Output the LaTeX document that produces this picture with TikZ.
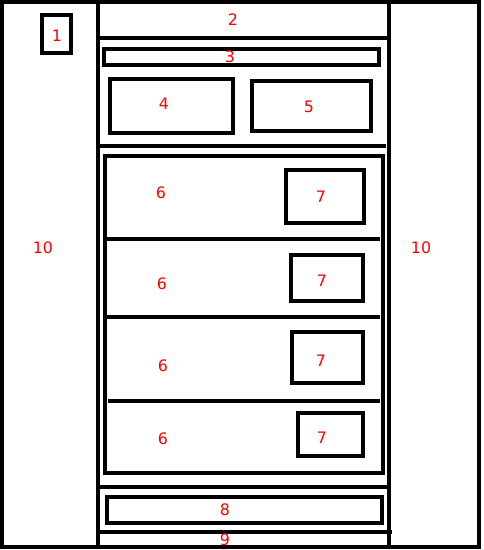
\documentclass[tikz,border=0pt]{standalone}
\usepackage{fontspec}
\setmainfont{DejaVu Sans}
\begin{document}
\begin{tikzpicture}[x=0.02cm,y=-0.02cm,line width=2.3pt,
    lbl/.style={text=red,font=\fontsize{9}{10}\selectfont,inner sep=0pt}]
    \useasboundingbox (0,0) rectangle (483,550);
    % outer frame and column lines
    \draw (2,2) rectangle (479,547);
    \draw (98,4)--(98,547);
    \draw (389,2)--(389,547);
    % header and top blocks
    \draw (98,38)--(389,38);
    \draw (42,15) rectangle (71,53);
    \draw (104,49) rectangle (379,65);
    \draw (110,79) rectangle (233,133);
    \draw (252,81) rectangle (371,131);
    \draw (98,146)--(386,146);
    % list of items
    \draw (105,156) rectangle (383,473);
    \draw (107,239)--(380,239);
    \draw (107,317)--(380,317);
    \draw (108,401)--(380,401);
    \draw (286,170) rectangle (364,223);
    \draw (291,255) rectangle (363,301);
    \draw (292,332) rectangle (363,383);
    \draw (298,413) rectangle (363,456);
    % footer
    \draw (98,487)--(389,487);
    \draw (107,497) rectangle (382,523);
    \draw (98,532)--(392,532);
    % labels
    \node[lbl] (n1) at (57,36) {1};
    \node[lbl] (n2) at (233,20) {2};
    \node[lbl] (n3) at (230,57) {3};
    \node[lbl] (n4) at (164,104) {4};
    \node[lbl] (n5) at (309,107) {5};
    \node[lbl] (n6a) at (161,193) {6};
    \node[lbl] (n6b) at (162,284) {6};
    \node[lbl] (n6c) at (163,366) {6};
    \node[lbl] (n6d) at (163,439) {6};
    \node[lbl] (n7a) at (321,197) {7};
    \node[lbl] (n7b) at (322,281) {7};
    \node[lbl] (n7c) at (321,361) {7};
    \node[lbl] (n7d) at (322,438) {7};
    \node[lbl] (n8) at (225,510) {8};
    \node[lbl] (n9) at (225,540) {9};
    \node[lbl] (n10a) at (43,248) {10};
    \node[lbl] (n10b) at (421,248) {10};
\end{tikzpicture}
\end{document}
